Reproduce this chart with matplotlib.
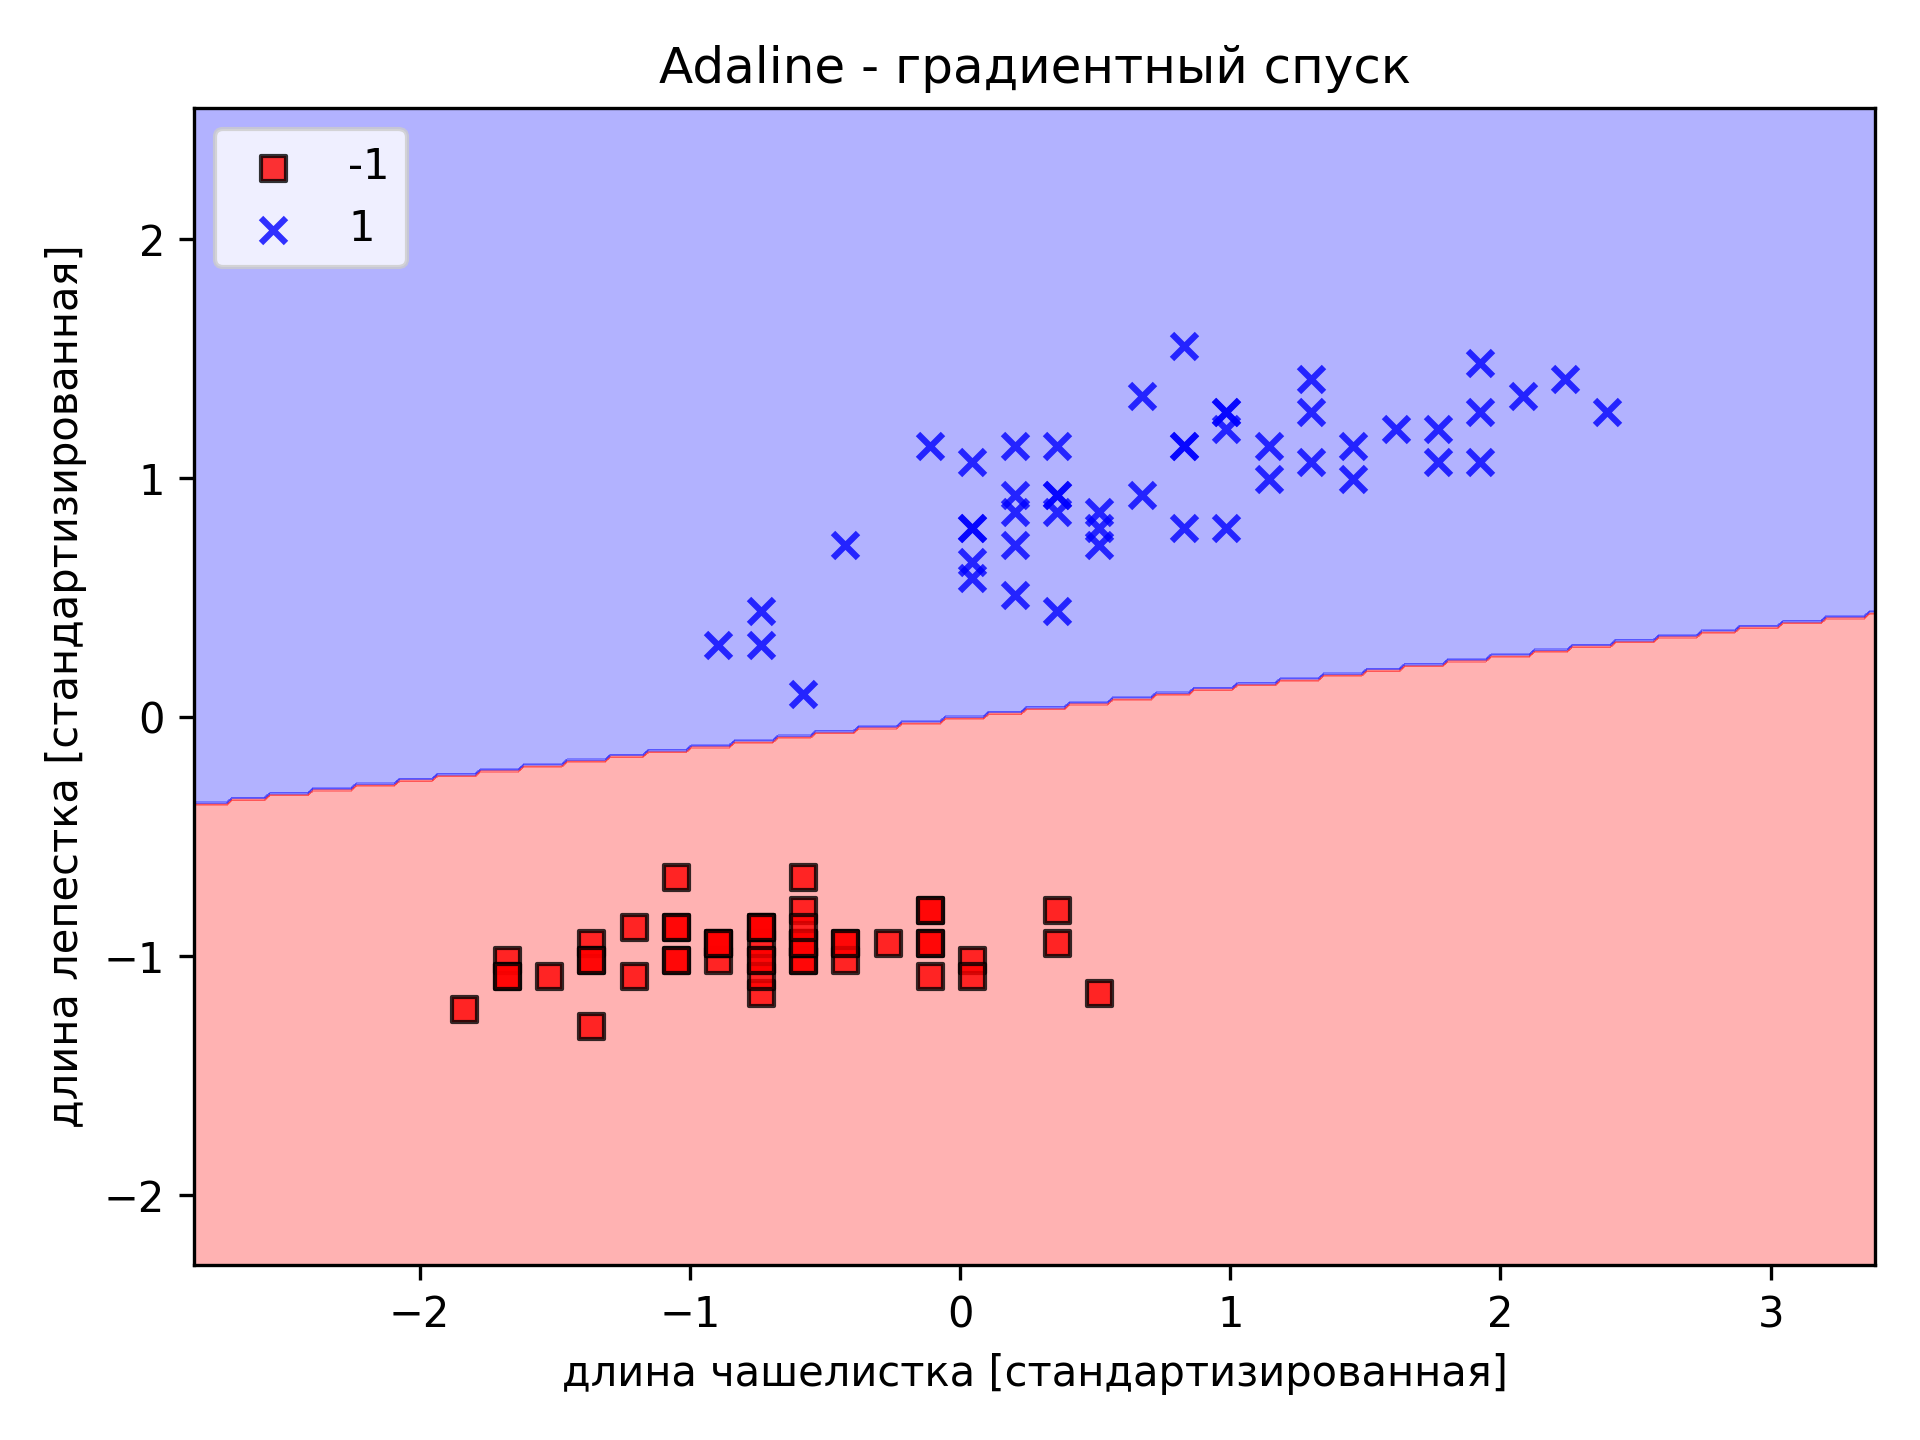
import numpy as np
import matplotlib
matplotlib.use("Agg")
import matplotlib.pyplot as plt
from matplotlib.colors import ListedColormap

setosa_sepal = [5.1,4.9,4.7,4.6,5.0,5.4,4.6,5.0,4.4,4.9,5.4,4.8,4.8,4.3,5.8,5.7,5.4,5.1,5.7,5.1,5.4,5.1,4.6,5.1,4.8,5.0,5.0,5.2,5.2,4.7,4.8,5.4,5.2,5.5,4.9,5.0,5.5,4.9,4.4,5.1,5.0,4.5,4.4,5.0,5.1,4.8,5.1,4.6,5.3,5.0]
setosa_petal = [1.4,1.4,1.3,1.5,1.4,1.7,1.4,1.5,1.4,1.5,1.5,1.6,1.4,1.1,1.2,1.5,1.3,1.4,1.7,1.5,1.7,1.5,1.0,1.7,1.9,1.6,1.6,1.5,1.4,1.6,1.6,1.5,1.5,1.4,1.5,1.2,1.3,1.5,1.3,1.5,1.3,1.3,1.3,1.6,1.9,1.4,1.6,1.4,1.5,1.4]
versi_sepal = [7.0,6.4,6.9,5.5,6.5,5.7,6.3,4.9,6.6,5.2,5.0,5.9,6.0,6.1,5.6,6.7,5.6,5.8,6.2,5.6,5.9,6.1,6.3,6.1,6.4,6.6,6.8,6.7,6.0,5.7,5.5,5.5,5.8,6.0,5.4,6.0,6.7,6.3,5.6,5.5,5.5,6.1,5.8,5.0,5.6,5.7,5.7,6.2,5.1,5.7]
versi_petal = [4.7,4.5,4.9,4.0,4.6,4.5,4.7,3.3,4.6,3.9,3.5,4.2,4.0,4.7,3.6,4.4,4.5,4.1,4.5,3.9,4.8,4.0,4.9,4.7,4.3,4.4,4.8,5.0,4.5,3.5,3.8,3.7,3.9,5.1,4.5,4.5,4.7,4.4,4.1,4.0,4.4,4.6,4.0,3.3,4.2,4.2,4.2,4.3,3.0,4.1]
labels = [-1, 1]
weights = [0.003, -0.1286, 1.0]  # bias, w_sepal, w_petal

X = np.array([setosa_sepal + versi_sepal, setosa_petal + versi_petal]).T
y = np.array([-1] * 50 + [1] * 50)
Xs = (X - X.mean(axis=0)) / X.std(axis=0)

fig, ax = plt.subplots(figsize=(6.4, 4.8), dpi=300)
res = 0.02
x1min, x1max = Xs[:, 0].min() - 1, Xs[:, 0].max() + 1
x2min, x2max = Xs[:, 1].min() - 1, Xs[:, 1].max() + 1
xx1, xx2 = np.meshgrid(np.arange(x1min, x1max, res), np.arange(x2min, x2max, res))
Z = np.where(weights[0] + weights[1] * xx1 + weights[2] * xx2 >= 0, 1, -1)
cmap = ListedColormap(['red', 'blue'])
ax.contourf(xx1, xx2, Z, alpha=0.3, cmap=cmap)
ax.set_xlim(xx1.min(), xx1.max())
ax.set_ylim(xx2.min(), xx2.max())

markers = ['s', 'x']
colors = ['red', 'blue']
for i, cl in enumerate(labels):
    m = y == cl
    if markers[i] == 's':
        ax.scatter(Xs[m, 0], Xs[m, 1], alpha=0.8, c=colors[i], marker='s', label=str(cl), edgecolor='black')
    else:
        ax.scatter(Xs[m, 0], Xs[m, 1], alpha=0.8, c=colors[i], marker='x', label=str(cl))

ax.set_title('Adaline - градиентный спуск')
ax.set_xlabel('длина чашелистка [стандартизированная]')
ax.set_ylabel('длина лепестка [стандартизированная]')
ax.legend(loc='upper left')
fig.tight_layout()
fig.savefig('out.png')
